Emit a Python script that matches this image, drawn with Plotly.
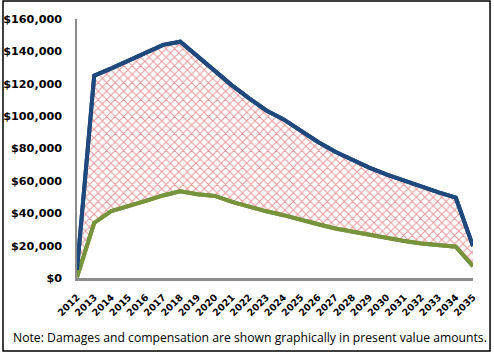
import plotly.graph_objects as go

years = list(range(2012, 2036))
year_labels = [str(y) for y in years]
damages = [5000, 125000, 129500, 134500, 139500, 144000, 146000, 137000, 128000,
           119000, 111000, 103500, 98000, 91000, 84000, 78000, 73000, 68000,
           63800, 60000, 56200, 52900, 49600, 19700]
compensation = [500, 34000, 41400, 44300, 47600, 51000, 53500, 51700, 50700,
                47000, 44000, 41200, 38800, 35700, 33200, 30600, 28500, 26500,
                24400, 22800, 21300, 20300, 19300, 7300]
y_ticks = [0, 20000, 40000, 60000, 80000, 100000, 120000, 140000, 160000]
y_tick_labels = ["$0", "$20,000", "$40,000", "$60,000", "$80,000", "$100,000",
                 "$120,000", "$140,000", "$160,000"]
note = "Note: Damages and compensation are shown graphically in present value amounts."

BLUE = "#1f497d"
GREEN = "#77933c"

fig = go.Figure()
fig.add_trace(go.Scatter(x=years, y=compensation, mode="lines",
                         line=dict(color=GREEN, width=4), hoverinfo="skip",
                         showlegend=False))
fig.add_trace(go.Scatter(x=years, y=damages, mode="lines",
                         line=dict(color=BLUE, width=4), fill="tonexty",
                         fillcolor="rgba(0,0,0,0)",
                         fillpattern=dict(shape="x", fgcolor="#d42a30", bgcolor="white",
                                          size=6, solidity=0.3, fillmode="overlay"),
                         hoverinfo="skip", showlegend=False))
# redraw lines on top of the fill
fig.add_trace(go.Scatter(x=years, y=compensation, mode="lines",
                         line=dict(color=GREEN, width=4), hoverinfo="skip",
                         showlegend=False))
fig.add_trace(go.Scatter(x=years, y=damages, mode="lines",
                         line=dict(color=BLUE, width=4), hoverinfo="skip",
                         showlegend=False))

fig.update_layout(
    width=494, height=357,
    margin=dict(l=77, r=21, t=19, b=79),
    paper_bgcolor="white", plot_bgcolor="white",
    font=dict(family="DejaVu Sans", color="black"),
    xaxis=dict(range=[2012, 2035], tickvals=years, ticktext=year_labels,
               tickangle=-45, showgrid=False, zeroline=False, automargin=False,
               showline=True, linecolor="#8c8c8c", linewidth=3,
               ticks="outside", ticklen=7, tickcolor="rgba(0,0,0,0)",
               tickfont=dict(family="DejaVu Sans", size=9.5, color="black", weight="bold")),
    yaxis=dict(range=[0, 160000], tickvals=y_ticks, ticktext=y_tick_labels,
               showgrid=False, zeroline=False, automargin=False,
               showline=True, linecolor="#8c8c8c", linewidth=1.5,
               ticks="outside", ticklen=11, tickcolor="rgba(0,0,0,0)",
               tickfont=dict(family="DejaVu Sans", size=11.2, color="black", weight="bold")),
    shapes=[dict(type="rect", xref="paper", yref="paper",
                 x0=-0.1869, x1=1.043, y0=-0.2819, y1=1.0695,
                 line=dict(color="black", width=1.5), layer="above")],
    annotations=[dict(text=note, xref="paper", yref="paper", x=0.437, y=-0.228,
                      xanchor="center", yanchor="middle", showarrow=False,
                      font=dict(family="Open Sans", size=12.2, color="black"))],
)

fig.write_html("out.html", config={"displayModeBar": False},
               post_script="document.body.style.margin='0px';document.body.style.overflow='hidden';")
